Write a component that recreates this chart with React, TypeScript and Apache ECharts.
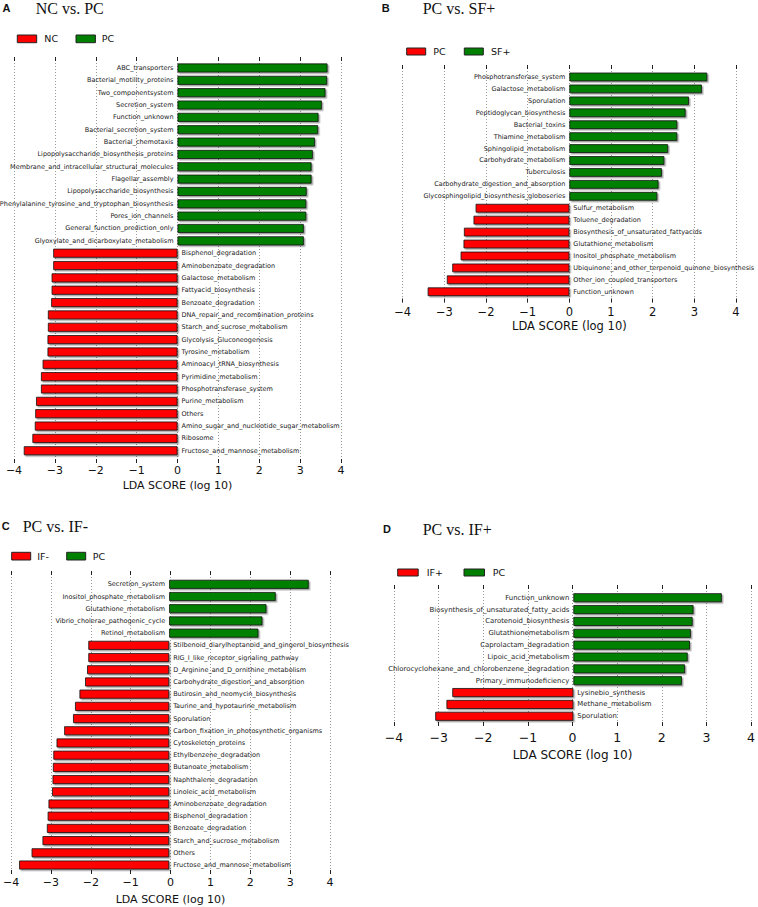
import React, { useEffect, useRef } from 'react';
import * as echarts from 'echarts';

// ---------- DATA ----------
const aTitle = 'NC vs. PC';
const aLegend = ['NC', 'PC']; // [negative group, positive group]
const aCategories = [
  'ABC_transporters', 'Bacterial_motility_proteins', 'Two_componentsystem', 'Secretion_system',
  'Function_unknown', 'Bacterial_secretion_system', 'Bacterial_chemotaxis',
  'Lipopolysaccharide_biosynthesis_proteins', 'Membrane_and_intracellular_structural_molecules',
  'Flagellar_assembly', 'Lipopolysaccharide_biosynthesis',
  'Phenylalanine_tyrosine_and_tryptophan_biosynthesis', 'Pores_ion_channels',
  'General_function_prediction_only', 'Glyoxylate_and_dicarboxylate_metabolism',
  'Bisphenol_degradation', 'Aminobenzoate_degradation', 'Galactose_metabolism',
  'Fattyacid_biosynthesis', 'Benzoate_degradation', 'DNA_repair_and_recombination_proteins',
  'Starch_and_sucrose_metabolism', 'Glycolysis_Gluconeogenesis', 'Tyrosine_metabolism',
  'Aminoacyl_tRNA_biosynthesis', 'Pyrimidine_metabolism', 'Phosphotransferase_system',
  'Purine_metabolism', 'Others', 'Amino_sugar_and_nucleotide_sugar_metabolism', 'Ribosome',
  'Fructose_and_mannose_metabolism',
];
const aScores = [
  3.67, 3.66, 3.62, 3.53, 3.45, 3.44, 3.36, 3.31, 3.28, 3.28, 3.16, 3.15, 3.15, 3.09, 3.09,
  -3.04, -3.04, -3.08, -3.08, -3.09, -3.17, -3.17, -3.18, -3.18, -3.3, -3.34, -3.34, -3.46,
  -3.48, -3.49, -3.55, -3.76,
];

const bTitle = 'PC vs. SF+';
const bLegend = ['PC', 'SF+'];
const bCategories = [
  'Phosphotransferase_system', 'Galactose_metabolism', 'Sporulation', 'Peptidoglycan_biosynthesis',
  'Bacterial_toxins', 'Thiamine_metabolism', 'Sphingolipid_metabolism', 'Carbohydrate_metabolism',
  'Tuberculosis', 'Carbohydrate_digestion_and_absorption', 'Glycosphingolipid_biosynthesis_globoseries',
  'Sulfur_metabolism', 'Toluene_degradation', 'Biosynthesis_of_unsaturated_fattyacids',
  'Glutathione_metabolism', 'Inositol_phosphate_metabolism',
  'Ubiquinone_and_other_terpenoid_quinone_biosynthesis', 'Other_ion_coupled_transporters',
  'Function_unknown',
];
const bScores = [
  3.31, 3.18, 2.87, 2.79, 2.59, 2.59, 2.37, 2.28, 2.22, 2.14, 2.11,
  -2.25, -2.3, -2.53, -2.54, -2.61, -2.81, -2.94, -3.4,
];

const cTitle = 'PC vs. IF-';
const cLegend = ['IF-', 'PC'];
const cCategories = [
  'Secretion_system', 'Inositol_phosphate_metabolism', 'Glutathione_metabolism',
  'Vibrio_cholerae_pathogenic_cycle', 'Retinol_metabolism',
  'Stilbenoid_diarylheptanoid_and_gingerol_biosynthesis', 'RIG_I_like_receptor_signaling_pathway',
  'D_Arginine_and_D_ornithine_metabolism', 'Carbohydrate_digestion_and_absorption',
  'Butirosin_and_neomycin_biosynthesis', 'Taurine_and_hypotaurine_metabolism', 'Sporulation',
  'Carbon_fixation_in_photosynthetic_organisms', 'Cytoskeleton_proteins', 'Ethylbenzene_degradation',
  'Butanoate_metabolism', 'Naphthalene_degradation', 'Linoleic_acid_metabolism',
  'Aminobenzoate_degradation', 'Bisphenol_degradation', 'Benzoate_degradation',
  'Starch_and_sucrose_metabolism', 'Others', 'Fructose_and_mannose_metabolism',
];
const cScores = [
  3.47, 2.65, 2.42, 2.32, 2.22,
  -2.01, -2.01, -2.04, -2.09, -2.23, -2.34, -2.39, -2.61, -2.8, -2.88, -2.89, -2.9, -2.91,
  -3.0, -3.02, -3.04, -3.15, -3.42, -3.73,
];

const dTitle = 'PC vs. IF+';
const dLegend = ['IF+', 'PC'];
const dCategories = [
  'Function_unknown', 'Biosynthesis_of_unsaturated_fatty_acids', 'Carotenoid_biosynthesis',
  'Glutathionemetabolism', 'Caprolactam_degradation', 'Lipoic_acid_metabolism',
  'Chlorocyclohexane_and_chlorobenzene_degradation', 'Primary_immunodeficiency',
  'Lysinebio_synthesis', 'Methane_metabolism', 'Sporulation',
];
const dScores = [3.31, 2.68, 2.66, 2.62, 2.6, 2.55, 2.49, 2.42, -2.7, -2.83, -3.08];

const xTicksMin = -4;
const xTicksMax = 4;
const axisTitle = 'LDA SCORE (log 10)';

// ---------- LAYOUT / STYLE ----------
const RED = '#ff0000';
const GREEN = '#008000';

const panels = [
  { letter: 'A', title: aTitle, legend: aLegend, cats: aCategories, vals: aScores },
  { letter: 'B', title: bTitle, legend: bLegend, cats: bCategories, vals: bScores },
  { letter: 'C', title: cTitle, legend: cLegend, cats: cCategories, vals: cScores },
  { letter: 'D', title: dTitle, legend: dLegend, cats: dCategories, vals: dScores },
];

const layouts = [
  {
    left: 14, width: 327, frameTop: 57, frameHeight: 406, barTop: 61.8, barHeight: 395.1,
    barWidth: 9, tickFont: 11, nameFont: 11, labelMargin: 2, nameGap: 17, labelFont: 6.5,
    letter: [2.5, 7.5], title: [35.7, 8.5],
    legend: { y: 35, h: 7.7, r: 17.3, rt: 44.3, g: 76, gt: 101.7, w: 19.4 },
  },
  {
    left: 402.7, width: 333.3, frameTop: 65, frameHeight: 237.5, barTop: 71, barHeight: 226.7,
    barWidth: 8.7, tickFont: 11.5, nameFont: 11.5, labelMargin: 3.5, nameGap: 17.5, labelFont: 6.5,
    letter: [381.7, 7.5], title: [422.7, 8.5],
    legend: { y: 48, h: 7, r: 406.7, rt: 433.3, g: 464.3, gt: 491, w: 19 },
  },
  {
    left: 8.3, width: 321.7, frameTop: 571, frameHeight: 303, barTop: 578.2, barHeight: 292.9,
    barWidth: 9, tickFont: 11, nameFont: 11, labelMargin: 3, nameGap: 20, labelFont: 6.5,
    letter: [1.7, 525.5], title: [22.7, 526.7],
    legend: { y: 552.3, h: 7.7, r: 11.7, rt: 37.3, g: 66.7, gt: 92.7, w: 19 },
  },
  {
    left: 394, width: 358.7, frameTop: 585, frameHeight: 141, barTop: 591.8, barHeight: 130.4,
    barWidth: 9, tickFont: 12.5, nameFont: 12, labelMargin: 5, nameGap: 23, labelFont: 6.9,
    letter: [383, 529], title: [422.7, 529],
    legend: { y: 569, h: 7, r: 397.7, rt: 426.7, g: 464, gt: 492.7, w: 20.5 },
  },
];

const fmtTick = (v: number) => (v < 0 ? '\u2212' + Math.abs(v) : String(v));

function buildOption() {
  const grid: any[] = [];
  const xAxis: any[] = [];
  const yAxis: any[] = [];
  const series: any[] = [];
  const graphic: any[] = [];

  panels.forEach((p, i) => {
    const L = layouts[i];
    grid.push({ left: L.left, top: L.frameTop, width: L.width, height: L.frameHeight });
    grid.push({ left: L.left, top: L.barTop, width: L.width, height: L.barHeight });
    const fg = 2 * i;
    const bg = 2 * i + 1;
    const tick = { show: true, inside: true, length: 4, lineStyle: { color: '#222', width: 1 } };
    xAxis.push({
      type: 'value', gridIndex: fg, position: 'bottom', min: xTicksMin, max: xTicksMax, interval: 1,
      axisLine: { show: false }, axisTick: tick,
      axisLabel: {
        margin: L.labelMargin, fontSize: L.tickFont, color: '#111', fontFamily: 'DejaVu Sans',
        formatter: fmtTick,
      },
      splitLine: { show: true, lineStyle: { color: '#9a9a9a', type: [1, 2], width: 1 } },
      name: axisTitle, nameLocation: 'middle', nameGap: L.nameGap,
      nameTextStyle: { fontSize: L.nameFont, fontFamily: 'DejaVu Sans', color: '#111' },
    });
    xAxis.push({
      type: 'value', gridIndex: fg, position: 'top', min: xTicksMin, max: xTicksMax, interval: 1,
      axisLine: { show: false }, axisTick: tick, axisLabel: { show: false }, splitLine: { show: false },
    });
    xAxis.push({ type: 'value', gridIndex: bg, min: xTicksMin, max: xTicksMax, show: false });
    yAxis.push({ type: 'value', gridIndex: fg, min: 0, max: 1, show: false });
    yAxis.push({ type: 'category', gridIndex: bg, data: p.cats, inverse: true, show: false });

    series.push({
      type: 'bar',
      xAxisIndex: 3 * i + 2,
      yAxisIndex: 2 * i + 1,
      barWidth: L.barWidth,
      itemStyle: {
        borderColor: '#111', borderWidth: 0.8,
        shadowColor: 'rgba(0,0,0,0.35)', shadowOffsetX: 1.5, shadowOffsetY: 1.5, shadowBlur: 0,
      },
      label: {
        show: true, formatter: '{b}', fontSize: L.labelFont, fontFamily: 'DejaVu Sans',
        color: '#222', distance: 4,
      },
      data: p.vals.map((v) => ({
        value: v,
        itemStyle: { color: v >= 0 ? GREEN : RED },
        label: { position: v >= 0 ? 'left' : 'right' },
      })),
    });

    graphic.push({
      type: 'text', x: L.letter[0], y: L.letter[1],
      style: {
        text: p.letter, fontSize: 11, fontWeight: 'bold', fontFamily: 'Liberation Sans',
        fill: '#111', verticalAlign: 'middle',
      },
    });
    graphic.push({
      type: 'text', x: L.title[0], y: L.title[1],
      style: {
        text: p.title, fontSize: 16, fontFamily: 'Liberation Serif', fill: '#111', verticalAlign: 'middle',
      },
    });
    const lg = L.legend;
    graphic.push({
      type: 'rect', shape: { x: lg.r, y: lg.y, width: lg.w, height: lg.h },
      style: { fill: RED, stroke: '#222', lineWidth: 1 },
    });
    graphic.push({
      type: 'text', x: lg.rt, y: lg.y + lg.h / 2,
      style: {
        text: p.legend[0], fontSize: 9.5, fontFamily: 'DejaVu Sans', fill: '#111', verticalAlign: 'middle',
      },
    });
    graphic.push({
      type: 'rect', shape: { x: lg.g, y: lg.y, width: lg.w, height: lg.h },
      style: { fill: GREEN, stroke: '#222', lineWidth: 1 },
    });
    graphic.push({
      type: 'text', x: lg.gt, y: lg.y + lg.h / 2,
      style: {
        text: p.legend[1], fontSize: 9.5, fontFamily: 'DejaVu Sans', fill: '#111', verticalAlign: 'middle',
      },
    });
  });

  return {
    animation: false,
    backgroundColor: '#ffffff',
    grid, xAxis, yAxis, series, graphic,
  };
}

export default function App() {
  const ref = useRef<HTMLDivElement>(null);
  useEffect(() => {
    if (!ref.current) return;
    const chart = echarts.init(ref.current, null, { renderer: 'svg' });
    chart.setOption(buildOption() as any);
    return () => chart.dispose();
  }, []);
  return (
    <div
      ref={ref}
      style={{ position: 'fixed', left: 0, top: 0, width: 758, height: 907, background: '#fff' }}
    />
  );
}
